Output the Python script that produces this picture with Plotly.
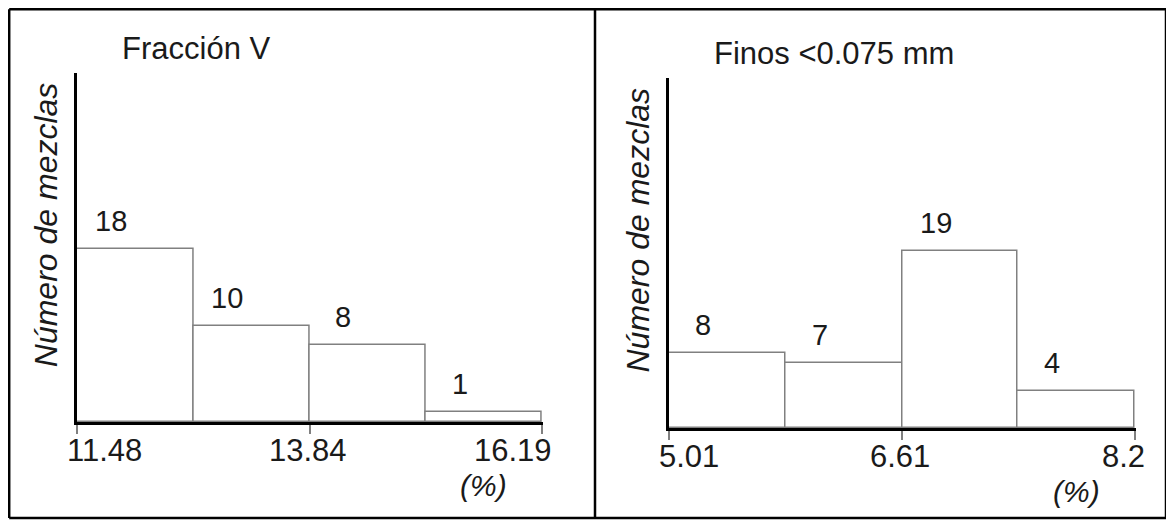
import plotly.graph_objects as go

# ---------------- data ----------------
titles = ["Fracción V", "Finos &lt;0.075 mm"]
y_title = "Número de mezclas"
unit_label = "(%)"

edges_v = [11.48, 12.66, 13.84, 15.01, 16.19]
counts_v = [18, 10, 8, 1]
ticks_v = [11.48, 13.84, 16.19]
ticktext_v = ["11.48", "13.84", "16.19"]

edges_f = [5.01, 5.81, 6.61, 7.40, 8.2]
counts_f = [8, 7, 19, 4]
ticks_f = [5.01, 6.61, 8.2]
ticktext_f = ["5.01", "6.61", "8.2"]

# ---------------- style ----------------
PAGE_W, PAGE_H = 1174, 525
OFF = 8  # default body margin of the html page
W, H = PAGE_W - OFF, PAGE_H - OFF
FONT = "Liberation Sans, Arial, sans-serif"
TXT = "#1a1a1a"
BAR_LINE = "#808080"


def fx(v):
    """page pixel x -> paper fraction"""
    return (v - OFF) / W


def fy(v):
    """page pixel y -> paper fraction"""
    return 1 - (v - OFF) / H


panels = [
    dict(edges=edges_v, counts=counts_v, ticks=ticks_v, ticktext=ticktext_v,
         title=titles[0], xpx=(76.7, 542.7), ypx=(73, 422), ppu=9.6, xa="x", ya="y"),
    dict(edges=edges_f, counts=counts_f, ticks=ticks_f, ticktext=ticktext_f,
         title=titles[1], xpx=(668.5, 1135.7), ypx=(78, 428), ppu=9.33, xa="x2", ya="y2"),
]

fig = go.Figure()
annotations = []
layout_axes = {}

for i, p in enumerate(panels):
    e = p["edges"]
    centers = [(e[k] + e[k + 1]) / 2 for k in range(len(e) - 1)]
    widths = [e[k + 1] - e[k] for k in range(len(e) - 1)]
    fig.add_trace(go.Bar(
        x=centers, y=p["counts"], width=widths,
        marker=dict(color="white", line=dict(color=BAR_LINE, width=1.5)),
        xaxis=p["xa"], yaxis=p["ya"], showlegend=False, hoverinfo="x+y",
    ))
    xd = [fx(p["xpx"][0]), fx(p["xpx"][1])]
    yd = [fy(p["ypx"][1]), fy(p["ypx"][0])]
    yr = (p["ypx"][1] - p["ypx"][0]) / p["ppu"]
    span = e[-1] - e[0]
    xname = "xaxis" if i == 0 else "xaxis2"
    yname = "yaxis" if i == 0 else "yaxis2"
    layout_axes[xname] = dict(
        domain=xd, range=[e[0], e[-1] + span * 0.002], anchor=p["ya"],
        showline=True, linecolor="black", linewidth=2.5, layer="above traces",
        ticks="outside", ticklen=9, tickwidth=1.5, tickcolor=BAR_LINE,
        tickvals=p["ticks"], showticklabels=False, showgrid=False, zeroline=False,
        fixedrange=True,
    )
    layout_axes[yname] = dict(
        domain=yd, range=[0, yr], anchor=p["xa"],
        showline=True, linecolor="black", linewidth=2.5, layer="above traces",
        ticks="", showticklabels=False, showgrid=False, zeroline=False,
        fixedrange=True,
    )
    xdom = p["xa"] + " domain"
    ydom = p["ya"] + " domain"
    # title
    annotations.append(dict(
        text=p["title"], xref=xdom, yref=ydom, x=0, y=1, xanchor="left",
        yanchor="middle", xshift=43, yshift=25, showarrow=False,
        font=dict(family=FONT, size=31, color=TXT)))
    # y-axis title
    annotations.append(dict(
        text=f"<i>{y_title}</i>", xref=xdom, yref=ydom, x=0, y=0.5,
        xanchor="center", yanchor="middle", xshift=-31, yshift=23,
        textangle=-90, showarrow=False,
        font=dict(family=FONT, size=32, color=TXT)))
    # bar value labels
    for c, v in zip(centers, p["counts"]):
        annotations.append(dict(
            text=str(v), x=c, y=v, xref=p["xa"], yref=p["ya"],
            xanchor="center", yanchor="middle", xshift=-24, yshift=28,
            showarrow=False, font=dict(family=FONT, size=29, color=TXT)))
    # tick labels (first left-aligned, middle centred, last right-aligned)
    anchors = ["left", "center", "right"]
    shifts = [-12, -2, 12]
    for tv, tt, an, sh in zip(p["ticks"], p["ticktext"], anchors, shifts):
        annotations.append(dict(
            text=tt, x=tv, y=0, xref=p["xa"], yref=p["ya"],
            xanchor=an, yanchor="middle", xshift=sh, yshift=-28,
            showarrow=False, font=dict(family=FONT, size=31, color=TXT)))
    # unit label
    annotations.append(dict(
        text=f"<i>{unit_label}</i>", x=p["ticks"][-1], y=0, xref=p["xa"], yref=p["ya"],
        xanchor="center", yanchor="middle", xshift=-58, yshift=-63,
        showarrow=False, font=dict(family=FONT, size=30, color=TXT)))

# frame (table borders)
frame = dict(type="line", xref="paper", yref="paper", line=dict(color="black", width=2.5))
LEFT, TOP, RIGHT, BOTTOM, MID = 9.2, 9.2, 1166, 518, 595
shapes = [
    dict(frame, x0=fx(LEFT), x1=fx(RIGHT + 1), y0=fy(TOP), y1=fy(TOP)),
    dict(frame, x0=fx(LEFT), x1=fx(RIGHT + 1), y0=fy(BOTTOM), y1=fy(BOTTOM)),
    dict(frame, x0=fx(LEFT), x1=fx(LEFT), y0=fy(TOP), y1=fy(BOTTOM)),
    dict(frame, x0=fx(MID), x1=fx(MID), y0=fy(TOP), y1=fy(BOTTOM)),
    dict(frame, x0=fx(RIGHT), x1=fx(RIGHT), y0=fy(TOP), y1=fy(BOTTOM)),
]

fig.update_layout(
    width=W, height=H, autosize=False,
    margin=dict(l=0, r=0, t=0, b=0, pad=0),
    paper_bgcolor="white", plot_bgcolor="white",
    bargap=0, annotations=annotations, shapes=shapes,
    font=dict(family=FONT, color=TXT),
    **layout_axes,
)

fig.write_html("out.html")
